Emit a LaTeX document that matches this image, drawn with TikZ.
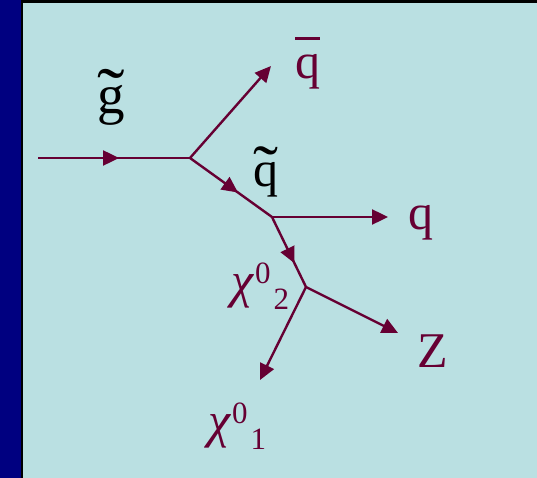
\documentclass[tikz,border=0pt]{standalone}
\usepackage{fontspec}
\setmainfont{Liberation Serif}
\usepackage{graphicx}
\usepackage{tikz}
\usetikzlibrary{arrows.meta,decorations.markings}
\definecolor{bgteal}{RGB}{186,224,226}
\definecolor{navybar}{RGB}{0,0,128}
\definecolor{maroon}{RGB}{102,0,51}
\newcommand{\qbar}{\rlap{\raisebox{0.78em}{\rule{0.5em}{2.5pt}}}q}
\newcommand{\tildeon}[2]{\ooalign{#2\cr\hidewidth\raisebox{#1}{\scalebox{1.5}[1.3]{˜}}\hidewidth\cr}}
\newcommand{\chilbl}[1]{\textit{χ}\kern1pt\raisebox{14pt}{\fontsize{31}{36}\selectfont 0}\kern3pt\raisebox{-12pt}{\fontsize{31}{36}\selectfont #1}}

\begin{document}
\begin{tikzpicture}[x=1pt, y=-1pt,
    line/.style={draw=maroon, line width=2.4pt},
    arr/.style={line, -{Triangle[length=16pt, width=15pt]}},
    midarr/.style={line, postaction={decorate}, decoration={markings, mark=at position #1 with {\arrow{Triangle[length=16pt, width=15pt]}}}},
    lbl/.style={inner sep=0pt, anchor=base, font=\fontsize{50}{60}\selectfont},
    plbl/.style={lbl, text=maroon},
  ]
    % Background and frame
    \useasboundingbox (0,0) rectangle (537,478);
    \fill[bgteal] (0,0) rectangle (537,478);
    \fill[navybar] (0,0) rectangle (21,478);
    \fill[black] (21,0) rectangle (23,478);
    \fill[black] (21,0) rectangle (537,3);

    % Vertices and free ends
    \coordinate (in) at (38,158);
    \coordinate (v1) at (190,158);
    \coordinate (v2) at (272,217);
    \coordinate (v3) at (306,287);
    \coordinate (qbtip) at (271,66);
    \coordinate (qtip) at (388,217);
    \coordinate (ztip) at (398,333);
    \coordinate (chitip) at (260,380);

    % Labels
    \node[lbl, font=\fontsize{55}{64}\selectfont] (gt) at (111,114) {\tildeon{-3.5pt}{g}};
    \node[lbl] (qt) at (266,186) {\tildeon{-4.5pt}{q}};
    \node[plbl] (qb) at (307.5,79) {\qbar};
    \node[plbl] (q) at (420.5,229) {q};
    \node[plbl] (z) at (432.5,367) {Z};
    \node[plbl, anchor=base west] (chi2) at (231,297) {\chilbl{2}};
    \node[plbl, anchor=base west] (chi1) at (208,437) {\chilbl{1}};

    % Decay chain
    \draw[midarr=0.533] (in) -- (v1);
    \draw[arr] (v1) -- (qbtip);
    \draw[midarr=0.585] (v1) -- (v2);
    \draw[arr] (v2) -- (qtip);
    \draw[midarr=0.66] (v2) -- (v3);
    \draw[arr] (v3) -- (ztip);
    \draw[arr] (v3) -- (chitip);

  \end{tikzpicture}
\end{document}
